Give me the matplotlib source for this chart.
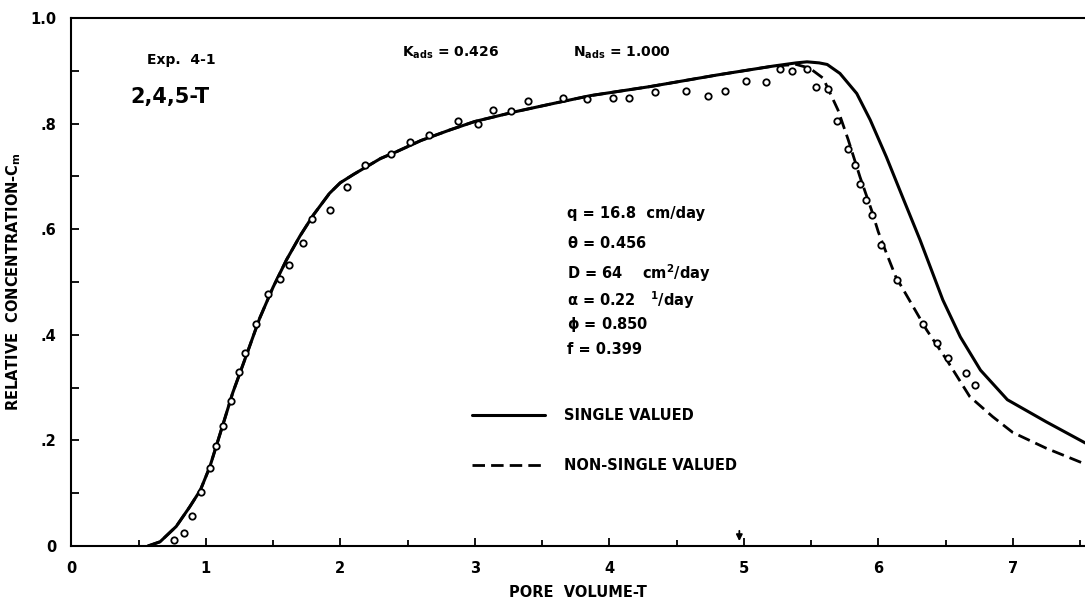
import matplotlib
matplotlib.use("Agg")
import matplotlib.pyplot as plt
from matplotlib.ticker import MultipleLocator, FixedLocator, FixedFormatter

plt.rcParams['font.family'] = ['DejaVu Sans']
plt.rcParams['font.weight'] = 'bold'
plt.rcParams['mathtext.fontset'] = 'custom'
plt.rcParams['mathtext.rm'] = 'DejaVu Sans:bold'
plt.rcParams['mathtext.it'] = 'DejaVu Sans:bold'
plt.rcParams['mathtext.bf'] = 'DejaVu Sans:bold'

# ---- data ----
rise_x = [0.57, 0.66, 0.78, 0.88, 0.96, 1.03, 1.08, 1.13, 1.20, 1.30, 1.40, 1.50,
          1.60, 1.70, 1.80, 1.92, 2.00, 2.10, 2.30, 2.42, 2.60, 2.815, 3.00, 3.31,
          3.60, 3.86, 4.30, 4.80, 5.22]
rise_y = [0.000, 0.008, 0.037, 0.074, 0.106, 0.150, 0.191, 0.232, 0.290, 0.360, 0.431, 0.490,
          0.542, 0.587, 0.627, 0.668, 0.688, 0.704, 0.734, 0.747, 0.768, 0.788, 0.804, 0.823,
          0.839, 0.853, 0.870, 0.892, 0.909]

single_tail_x = [5.39, 5.47, 5.56, 5.62, 5.715, 5.84, 5.94, 6.06, 6.19, 6.31, 6.48,
                 6.61, 6.76, 6.96, 7.25, 7.54]
single_tail_y = [0.915, 0.917, 0.915, 0.912, 0.895, 0.857, 0.807, 0.737, 0.655, 0.580, 0.466,
                 0.396, 0.333, 0.277, 0.235, 0.195]

nonsingle_tail_x = [5.39, 5.49, 5.59, 5.70, 5.777, 5.864, 5.95, 6.00, 6.06, 6.13, 6.21,
                    6.36, 6.51, 6.68, 6.85, 7.00, 7.25, 7.54]
nonsingle_tail_y = [0.912, 0.905, 0.886, 0.826, 0.769, 0.699, 0.636, 0.595, 0.555, 0.510, 0.475,
                    0.409, 0.352, 0.283, 0.245, 0.215, 0.185, 0.155]

obs_x = [0.766, 0.838, 0.895, 0.967, 1.034, 1.073, 1.125, 1.19, 1.245, 1.29, 1.375,
         1.465, 1.549, 1.616, 1.725, 1.792, 1.921, 2.047, 2.181, 2.375, 2.52, 2.66,
         2.877, 3.021, 3.138, 3.267, 3.396, 3.653, 3.837, 4.025, 4.147, 4.337, 4.570,
         4.732, 4.860, 5.016, 5.163, 5.269, 5.356, 5.467, 5.537, 5.628, 5.691, 5.777,
         5.827, 5.864, 5.909, 5.953, 6.020, 6.139, 6.330, 6.434, 6.516, 6.652, 6.719]
obs_y = [0.011, 0.025, 0.057, 0.102, 0.147, 0.190, 0.227, 0.275, 0.330, 0.365, 0.420,
         0.477, 0.506, 0.532, 0.574, 0.619, 0.636, 0.680, 0.721, 0.742, 0.765, 0.778,
         0.804, 0.799, 0.826, 0.824, 0.843, 0.849, 0.847, 0.849, 0.848, 0.860, 0.862,
         0.852, 0.862, 0.881, 0.879, 0.904, 0.900, 0.903, 0.870, 0.865, 0.805, 0.752,
         0.722, 0.686, 0.655, 0.627, 0.570, 0.504, 0.420, 0.384, 0.356, 0.327, 0.304]

x_tick_vals = [0, 1, 2, 3, 4, 5, 6, 7]
x_tick_labels = ["0", "1", "2", "3", "4", "5", "6", "7"]
y_tick_vals = [0, 0.2, 0.4, 0.6, 0.8, 1.0]
y_tick_labels = ["0", ".2", ".4", ".6", ".8", "1.0"]

params = ["q = 16.8  cm/day", r"$\theta$ = 0.456", r"D = 64    cm$^2$/day",
          r"$\alpha$ = 0.22   $^1$/day", r"$\phi$ = 0.850", "f = 0.399"]

single_x = rise_x + single_tail_x
single_y = rise_y + single_tail_y
nonsingle_x = rise_x + nonsingle_tail_x
nonsingle_y = rise_y + nonsingle_tail_y

# ---- figure ----
fig = plt.figure(figsize=(10.85, 6.02), dpi=100)
ax = fig.add_axes([71.3 / 1085, 1 - 546 / 602, (1085 - 71.3) / 1085, 528 / 602])
ax.set_xlim(0, 7.537)
ax.set_ylim(0, 1.0)

ax.plot(single_x, single_y, color='black', lw=2.2, solid_capstyle='round',
        label='SINGLE VALUED', zorder=3)
ax.plot(nonsingle_x, nonsingle_y, color='black', lw=2.0, linestyle=(0, (4.5, 2.2)),
        label='NON-SINGLE VALUED', zorder=3)
ax.plot(obs_x, obs_y, linestyle='none', marker='o', markersize=4.6,
        markerfacecolor='white', markeredgecolor='black', markeredgewidth=1.3, zorder=4)

for side in ['top', 'left', 'bottom']:
    ax.spines[side].set_linewidth(1.5)
ax.spines['right'].set_visible(False)

ax.xaxis.set_major_locator(FixedLocator(x_tick_vals))
ax.xaxis.set_major_formatter(FixedFormatter(x_tick_labels))
ax.xaxis.set_minor_locator(MultipleLocator(0.5))
ax.yaxis.set_major_locator(FixedLocator(y_tick_vals))
ax.yaxis.set_major_formatter(FixedFormatter(y_tick_labels))
ax.yaxis.set_minor_locator(MultipleLocator(0.1))
ax.tick_params(axis='x', which='major', direction='in', length=6, width=1.3,
               pad=11, labelsize=10.5)
ax.tick_params(axis='x', which='minor', direction='in', length=4, width=1.3)
ax.tick_params(axis='y', which='major', direction='in', length=5.5, width=1.3,
               pad=11, labelsize=10.5)
ax.tick_params(axis='y', which='minor', direction='in', length=5.5, width=1.3)
ax.tick_params(top=False, right=False)

ax.set_xlabel("PORE  VOLUME-T", fontsize=10.5, fontweight='bold', labelpad=6)
ax.set_ylabel("RELATIVE  CONCENTRATION-C$_m$", fontsize=10.5, fontweight='bold',
              labelpad=5)

ax.text(0.563, 0.920, "Exp.  4-1", fontsize=10, fontweight='bold', va='center')
ax.text(0.436, 0.850, "2,4,5-T", fontsize=15, fontweight='bold', va='center')
ax.text(2.459, 0.934, r"K$_{ads}$ = 0.426", fontsize=10, va='center')
ax.text(3.730, 0.934, r"N$_{ads}$ = 1.000", fontsize=10, va='center')

param_y = [0.630, 0.573, 0.517, 0.466, 0.420, 0.373]
for txt, yy in zip(params, param_y):
    ax.text(3.686, yy, txt, fontsize=10.5, va='center')

ax.annotate("", xy=(4.967, 0.004), xytext=(4.967, 0.034),
            arrowprops=dict(arrowstyle='-|>', color='black', lw=1.3, mutation_scale=9))

leg = ax.legend(loc='upper left', bbox_to_anchor=(0.3953, 0.262), frameon=False,
                fontsize=10.5, handlelength=5.0, handletextpad=1.3, labelspacing=2.45,
                borderpad=0, borderaxespad=0)

fig.savefig("out.png", dpi=100)
